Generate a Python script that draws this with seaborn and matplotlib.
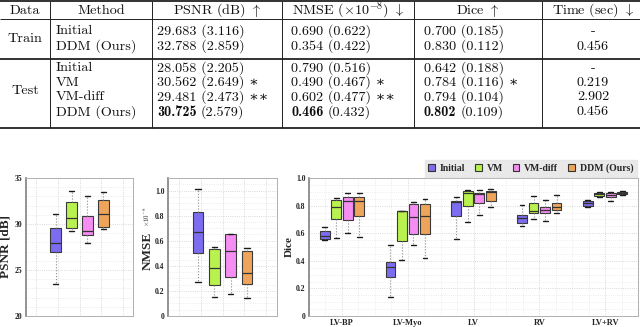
import numpy as np
import pandas as pd
import matplotlib
matplotlib.use("Agg")
import matplotlib.pyplot as plt
import seaborn as sns
from matplotlib.patches import Patch
from matplotlib.ticker import MultipleLocator, NullFormatter, FixedLocator

# ---------------- data ----------------
methods = ['Initial', 'VM', 'VM-diff', 'DDM (Ours)']
colors = ['#7C6CF0', '#B9F24E', '#F58DF2', '#EEA55B']

# table
tbl_header = ['Data', 'Method', r'PSNR (dB) $\uparrow$', r'NMSE ($\times10^{-8}$) $\downarrow$',
              r'Dice $\uparrow$', r'Time (sec) $\downarrow$']
train_methods = ['Initial', 'DDM (Ours)']
train_psnr = ['29.683 (3.116)', '32.788 (2.859)']
train_nmse = ['0.690 (0.622)', '0.354 (0.422)']
train_dice = ['0.700 (0.185)', '0.830 (0.112)']
train_time = ['-', '0.456']
test_methods = ['Initial', 'VM', 'VM-diff', 'DDM (Ours)']
test_psnr = ['28.058 (2.205)', '30.562 (2.649) \u2217', '29.481 (2.473) \u2217\u2217', '30.725|(2.579)']
test_nmse = ['0.790 (0.516)', '0.490 (0.467) \u2217', '0.602 (0.477) \u2217\u2217', '0.466|(0.432)']
test_dice = ['0.642 (0.188)', '0.784 (0.116) \u2217', '0.794 (0.104)', '0.802|(0.109)']
test_time = ['-', '0.219', '2.902', '0.456']

# PSNR box summaries (low whisker, Q1, median, Q3, high whisker)
psnr_lo = [23.5, 29.25, 27.9, 29.5]
psnr_q1 = [27.0, 29.6, 28.8, 29.7]
psnr_med = [27.9, 30.7, 29.2, 31.05]
psnr_q3 = [29.6, 32.4, 30.9, 32.6]
psnr_hi = [31.05, 33.6, 33.0, 33.5]

# NMSE box summaries
nmse_lo = [0.27, 0.155, 0.174, 0.146]
nmse_q1 = [0.50, 0.248, 0.31, 0.254]
nmse_med = [0.67, 0.38, 0.515, 0.346]
nmse_q3 = [0.83, 0.536, 0.653, 0.515]
nmse_hi = [1.016, 0.547, 0.653, 0.54]

# Dice box summaries per region
regions = ['LV-BP', 'LV-Myo', 'LV', 'RV', 'LV+RV']
dice_lo = {'Initial': [0.55, 0.14, 0.556, 0.652, 0.792],
           'VM': [0.563, 0.406, 0.684, 0.703, 0.865],
           'VM-diff': [0.60, 0.514, 0.732, 0.688, 0.833],
           'DDM (Ours)': [0.575, 0.418, 0.788, 0.749, 0.877]}
dice_q1 = {'Initial': [0.558, 0.28, 0.725, 0.676, 0.797],
           'VM': [0.70, 0.546, 0.797, 0.749, 0.87],
           'VM-diff': [0.696, 0.592, 0.816, 0.744, 0.865],
           'DDM (Ours)': [0.725, 0.592, 0.836, 0.768, 0.884]}
dice_med = {'Initial': [0.58, 0.353, 0.826, 0.708, 0.816],
            'VM': [0.792, 0.758, 0.894, 0.763, 0.882],
            'VM-diff': [0.836, 0.72, 0.884, 0.768, 0.877],
            'DDM (Ours)': [0.833, 0.725, 0.901, 0.792, 0.894]}
dice_q3 = {'Initial': [0.616, 0.394, 0.833, 0.732, 0.833],
           'VM': [0.838, 0.761, 0.908, 0.816, 0.889],
           'VM-diff': [0.86, 0.809, 0.894, 0.792, 0.889],
           'DDM (Ours)': [0.86, 0.809, 0.908, 0.821, 0.901]}
dice_hi = {'Initial': [0.643, 0.514, 0.86, 0.804, 0.841],
           'VM': [0.853, 0.761, 0.913, 0.872, 0.896],
           'VM-diff': [0.889, 0.828, 0.913, 0.841, 0.901],
           'DDM (Ours)': [0.889, 0.845, 0.918, 0.877, 0.908]}

# ---------------- build long tables ----------------
def five(lo, q1, md, q3, hi):
    return [lo, q1, md, q3, hi]

rows = []
for i, m in enumerate(methods):
    for v in five(psnr_lo[i], psnr_q1[i], psnr_med[i], psnr_q3[i], psnr_hi[i]):
        rows.append(dict(metric='PSNR', method=m, value=v))
df_psnr = pd.DataFrame(rows)
rows = []
for i, m in enumerate(methods):
    for v in five(nmse_lo[i], nmse_q1[i], nmse_med[i], nmse_q3[i], nmse_hi[i]):
        rows.append(dict(metric='NMSE', method=m, value=v))
df_nmse = pd.DataFrame(rows)
rows = []
for m in methods:
    for j, r in enumerate(regions):
        for v in five(dice_lo[m][j], dice_q1[m][j], dice_med[m][j], dice_q3[m][j], dice_hi[m][j]):
            rows.append(dict(region=r, method=m, value=v))
df_dice = pd.DataFrame(rows)

# ---------------- style ----------------
sns.set_style('white')
plt.rcParams['font.family'] = ['Liberation Serif', 'DejaVu Serif']
plt.rcParams['mathtext.fontset'] = 'cm'

W, H = 640, 327
fig = plt.figure(figsize=(W / 100, H / 100), dpi=100)

def px_axes(x0, y0, x1, y1):
    return fig.add_axes([x0 / W, 1 - y1 / H, (x1 - x0) / W, (y1 - y0) / H])

# ---------------- table ----------------
axt = px_axes(0, 0, 640, 140)
axt.set_xlim(0, 640)
axt.set_ylim(140, 0)
axt.axis('off')
FS = 10.2
tf = dict(family=['cmr10', 'DejaVu Serif'], fontsize=FS, va='center', color='#111111')
tfb = dict(family=['cmb10', 'DejaVu Serif'], fontsize=FS, va='center', color='#111111')
vlines_x = [50, 152, 282, 414, 542]
axt.vlines(vlines_x, 1, 128, color='#222222', lw=0.7)
axt.hlines(1, 0, 640, color='#222222', lw=1.3)
axt.hlines(19.5, 0, 640, color='#222222', lw=0.7)
axt.hlines(59, 0, 640, color='#222222', lw=1.3)
axt.hlines(128, 0, 640, color='#222222', lw=1.3)
hx = [25, 101, 217, 348, 478, 593]
for x, t in zip(hx, tbl_header):
    axt.text(x, 10.5, t, ha='center', **tf)

renderer = fig.canvas.get_renderer()

def cell(x, y, s):
    if '|' in s:
        b, r = s.split('|')
        t = axt.text(x, y, b, ha='left', **tfb)
        bb = t.get_window_extent(renderer)
        x1 = axt.transData.inverted().transform((bb.x1, bb.y0))[0]
        axt.text(x1 + 4.0, y, r, ha='left', **tf)
    else:
        axt.text(x, y, s, ha='left', **tf)

col_x = [56, 157, 291, 424]
train_y = [31, 46.5]
test_y = [68, 82.5, 97, 112]
axt.text(25, 38.75, 'Train', ha='center', **tf)
axt.text(25, 91, 'Test', ha='center', **tf)
for k, y in enumerate(train_y):
    for x, col in zip(col_x, [train_methods, train_psnr, train_nmse, train_dice]):
        cell(x, y, col[k])
    axt.text(593, y, train_time[k], ha='center', **tf)
for k, y in enumerate(test_y):
    for x, col in zip(col_x, [test_methods, test_psnr, test_nmse, test_dice]):
        cell(x, y, col[k])
    axt.text(593, y, test_time[k], ha='center', **tf)

# ---------------- boxplots ----------------
box_kw = dict(hue='method', hue_order=methods, palette=colors, saturation=1,
              whis=(0, 100), linecolor='#3a3a3a', linewidth=0.8, fliersize=0,
              legend=False,
              whiskerprops=dict(linestyle=':', color='#8a8a8a', linewidth=0.8),
              capprops=dict(color='#1a1a1a', linewidth=1.0),
              medianprops=dict(color='#333333', linewidth=0.9))

def style(ax):
    for s in ax.spines.values():
        s.set_color('#b0b0b0')
        s.set_linewidth(0.7)
    ax.spines['left'].set_color('#808080')
    ax.spines['left'].set_linewidth(1.2)
    ax.tick_params(axis='y', labelsize=5.5, length=0, pad=2.5, colors='#222222')
    ax.grid(True, which='major', ls=':', color='#cccccc', lw=0.6)
    ax.grid(True, which='minor', ls=':', color='#e2e2e2', lw=0.5)
    ax.set_axisbelow(True)
    plt.setp(ax.get_yticklabels(), fontweight='bold')

ax1 = px_axes(26, 178, 133, 316)
sns.boxplot(data=df_psnr, x='metric', y='value', width=0.8, gap=0.35, ax=ax1, **box_kw)
ax1.set_ylim(20, 35)
ax1.set_xlim(-0.67, 0.67)
ax1.set_yticks([20, 25, 30, 35])
ax1.yaxis.set_minor_locator(MultipleLocator(1))
ax1.xaxis.set_major_locator(FixedLocator([-0.54, -0.27, 0, 0.27, 0.54]))
ax1.xaxis.set_major_formatter(NullFormatter())
ax1.tick_params(axis='x', length=0)
ax1.set_xlabel('')
ax1.set_ylabel('PSNR [dB]', fontsize=9.5, fontweight='bold')
ax1.yaxis.set_label_coords(-0.14, 0.5)
style(ax1)

ax2 = px_axes(168, 178, 277, 316)
sns.boxplot(data=df_nmse, x='metric', y='value', width=0.8, gap=0.35, ax=ax2, **box_kw)
ax2.set_ylim(0, 1.1)
ax2.set_xlim(-0.67, 0.67)
ax2.set_yticks([0, 0.2, 0.4, 0.6, 0.8, 1.0])
ax2.set_yticklabels(['0', '0.2', '0.4', '0.6', '0.8', '1.0'])
ax2.yaxis.set_minor_locator(MultipleLocator(0.05))
ax2.xaxis.set_major_locator(FixedLocator([-0.54, -0.27, 0, 0.27, 0.54]))
ax2.xaxis.set_major_formatter(NullFormatter())
ax2.tick_params(axis='x', length=0)
ax2.set_xlabel('')
ax2.set_ylabel('NMSE', fontsize=9.5, fontweight='bold')
ax2.yaxis.set_label_coords(-0.135, 0.47)
ax2.text(-0.19, 0.72, r'$\times10^{-8}$', transform=ax2.transAxes, rotation=90,
         fontsize=5, ha='center', va='center')
style(ax2)

ax3 = px_axes(309, 178, 638, 316)
sns.boxplot(data=df_dice, x='region', y='value', order=regions, width=0.7, gap=0.15, ax=ax3, **box_kw)
ax3.set_ylim(0, 1.0)
ax3.set_xlim(-0.5, 4.5)
ax3.set_yticks([0, 0.2, 0.4, 0.6, 0.8, 1.0])
ax3.set_yticklabels(['0', '0.2', '0.4', '0.6', '0.8', '1.0'])
ax3.yaxis.set_minor_locator(MultipleLocator(0.05))
ax3.xaxis.set_minor_locator(MultipleLocator(0.25))
ax3.set_xlabel('')
ax3.set_ylabel('Dice', fontsize=8, fontweight='bold')
ax3.yaxis.set_label_coords(-0.046, 0.5)
style(ax3)
ax3.tick_params(axis='x', which='major', labelsize=6, length=2, direction='inout', pad=1.5, colors='#222222')
ax3.tick_params(axis='x', which='minor', length=0)
plt.setp(ax3.get_xticklabels(), fontweight='bold')

handles = [Patch(facecolor=c, edgecolor='#333333', linewidth=0.8) for c in colors]
ax3.legend(handles, methods, loc='lower right', bbox_to_anchor=(1.0, 1.0), ncol=4,
           frameon=True, fancybox=False, facecolor='#e4e4e4', edgecolor='#e4e4e4',
           prop=dict(weight='bold', size=7), handlelength=0.7, handleheight=0.7,
           handletextpad=0.5, columnspacing=1.0, borderpad=0.35, borderaxespad=0.15)

fig.savefig('out.png', dpi=100)
